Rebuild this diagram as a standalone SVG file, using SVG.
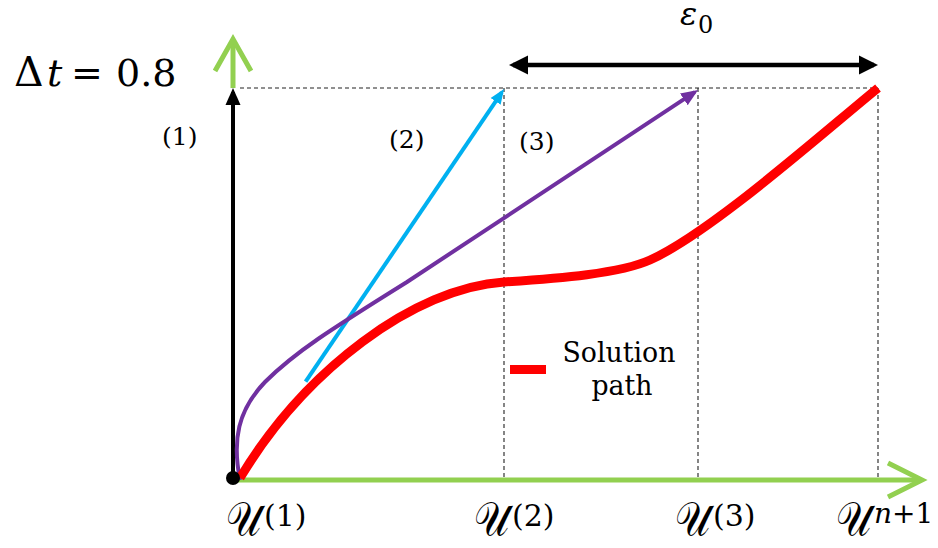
<svg xmlns="http://www.w3.org/2000/svg" width="938" height="548" viewBox="0 0 938 548">
  <style>
    .dash { stroke: #222; stroke-width: 1.1; stroke-dasharray: 4 3; fill: none; }
    .green { stroke: #92D050; stroke-width: 5; fill: none; stroke-linejoin: miter; }
    .lbl { font-family: "DejaVu Serif", "Liberation Serif", serif; fill: #000; }
    .math { font-family: "DejaVu Serif", "Liberation Serif", serif; fill: #000; }
    .scr { font-family: "DejaVu Sans", "DejaVu Serif", serif; font-size: 48px; }
  </style>
  <defs>
    <marker id="headBlack" markerUnits="userSpaceOnUse" viewBox="0 0 20 20" markerWidth="20" markerHeight="20" refX="15" refY="10" orient="auto-start-reverse">
      <path d="M0,0.5 L19,10 L0,19.5 z" fill="#000"/>
    </marker>
    <marker id="headBlackV" markerUnits="userSpaceOnUse" viewBox="0 0 18 18" markerWidth="18" markerHeight="18" refX="13" refY="9" orient="auto">
      <path d="M0,1.5 L17,9 L0,16.5 z" fill="#000"/>
    </marker>
    <marker id="headCyan" markerUnits="userSpaceOnUse" viewBox="0 0 16 14" markerWidth="16" markerHeight="14" refX="11" refY="7" orient="auto">
      <path d="M0,1 L15,7 L0,13 z" fill="#00B0F0"/>
    </marker>
    <marker id="headPurple" markerUnits="userSpaceOnUse" viewBox="0 0 18 16" markerWidth="18" markerHeight="16" refX="13" refY="8" orient="auto">
      <path d="M0,1 L17,8 L0,15 z" fill="#7030A0"/>
    </marker>
  </defs>

  <!-- guide lines -->
  <g id="guides">
    <line class="dash" x1="240" y1="88" x2="878" y2="88" stroke="#555"/>
    <line class="dash" x1="504" y1="88" x2="504" y2="480"/>
    <line class="dash" x1="698" y1="88" x2="698" y2="480"/>
    <line class="dash" x1="878" y1="88" x2="878" y2="480"/>
  </g>

  <!-- axes -->
  <g id="axes">
    <line class="green" x1="233" y1="88" x2="233" y2="42"/>
    <polyline class="green" points="215,71 233,39 251,71"/>
    <line class="green" x1="238" y1="480" x2="920" y2="480"/>
    <polyline class="green" points="888,463 922,480 888,497"/>
  </g>

  <g id="connectors">
    <!-- (1) black vertical arrow -->
    <line x1="233" y1="478" x2="233" y2="92" stroke="#000" stroke-width="4" marker-end="url(#headBlackV)"/>
    <!-- (2) cyan arrow -->
    <line x1="305.6" y1="381.7" x2="501.8" y2="92.3" stroke="#00B0F0" stroke-width="4" marker-end="url(#headCyan)"/>
    <!-- (3) purple arrow -->
    <path d="M240,480 C232,440 238,410 265,382 C295,352 330,330 407,282 L694.7,92.2" fill="none" stroke="#7030A0" stroke-width="4" marker-end="url(#headPurple)"/>
    <!-- epsilon double arrow -->
    <line x1="513" y1="65" x2="874" y2="65" stroke="#000" stroke-width="4.5" marker-start="url(#headBlack)" marker-end="url(#headBlack)"/>
    <!-- solution path -->
    <path d="M240,478 C305,370 414,288 504,282 C560,278.3 620,273.5 650,260 C710,233 818,137 878,88" fill="none" stroke="#FF0000" stroke-width="9"/>
  </g>

  <g id="origin">
    <circle cx="233" cy="478" r="7" fill="#000"/>
  </g>

  <g id="legend">
    <rect x="510" y="365" width="36" height="9" fill="#FF0000"/>
    <text class="lbl" x="619" y="362" font-size="27" text-anchor="middle" textLength="113" lengthAdjust="spacingAndGlyphs">Solution</text>
    <text class="lbl" x="622" y="395" font-size="27" text-anchor="middle" textLength="61" lengthAdjust="spacingAndGlyphs">path</text>
  </g>

  <g id="labels">
    <text class="lbl" x="162" y="145" font-size="25">(1)</text>
    <text class="lbl" x="389" y="148" font-size="25">(2)</text>
    <text class="lbl" x="519" y="150" font-size="25">(3)</text>
  </g>

  <g id="dt">
    <text class="math" y="86" font-size="38"><tspan x="14" font-size="41">Δ</tspan><tspan x="47" font-style="italic">t</tspan><tspan x="71">=</tspan><tspan x="116">0.8</tspan></text>
  </g>

  <g id="eps">
    <text class="math" y="25" font-size="32"><tspan x="680" font-style="italic">ε</tspan><tspan x="698" y="33" font-size="24">0</tspan></text>
  </g>

  <g id="xlabels">
    <text class="math" y="536" font-size="30"><tspan class="scr" x="226" textLength="35" lengthAdjust="spacingAndGlyphs">𝒰</tspan><tspan x="264" y="526">(1)</tspan></text>
    <text class="math" y="536" font-size="30"><tspan class="scr" x="474" textLength="35" lengthAdjust="spacingAndGlyphs">𝒰</tspan><tspan x="512" y="526">(2)</tspan></text>
    <text class="math" y="536" font-size="30"><tspan class="scr" x="675" textLength="35" lengthAdjust="spacingAndGlyphs">𝒰</tspan><tspan x="713" y="526">(3)</tspan></text>
    <text class="math" y="536" font-size="28"><tspan class="scr" x="836" textLength="35" lengthAdjust="spacingAndGlyphs">𝒰</tspan><tspan x="874" y="523" font-style="italic">n</tspan><tspan>+1</tspan></text>
  </g>
</svg>
